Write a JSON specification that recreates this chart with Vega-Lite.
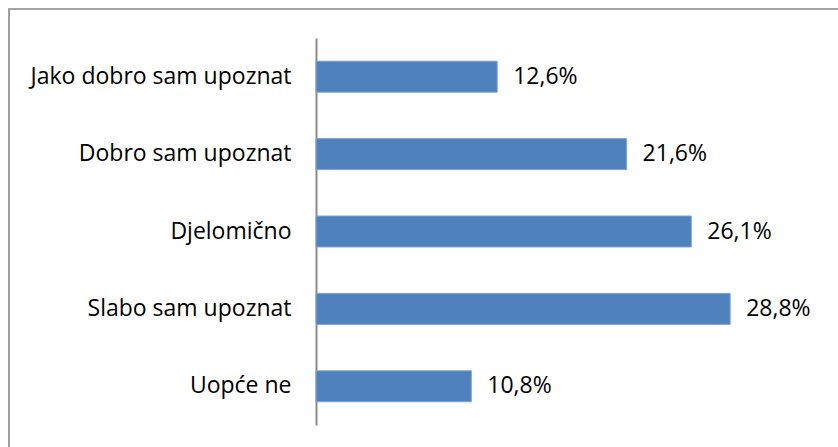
{
  "$schema": "https://vega.github.io/schema/vega-lite/v6.json",
  "autosize": {"type": "none"},
  "padding": {"left": 9, "top": 9, "right": 0, "bottom": 0},
  "width": 836,
  "height": 446,
  "background": "white",
  "config": {"view": {"stroke": "#878787", "strokeWidth": 1.6}, "font": "Open Sans"},
  "data": {"values": [
    {"kategorija": "Jako dobro sam upoznat", "postotak": 12.6, "oznaka": "12,6%"},
    {"kategorija": "Dobro sam upoznat", "postotak": 21.6, "oznaka": "21,6%"},
    {"kategorija": "Djelomično", "postotak": 26.1, "oznaka": "26,1%"},
    {"kategorija": "Slabo sam upoznat", "postotak": 28.8, "oznaka": "28,8%"},
    {"kategorija": "Uopće ne", "postotak": 10.8, "oznaka": "10,8%"}
  ]},
  "encoding": {
    "y": {"field": "kategorija", "type": "nominal", "sort": null,
      "scale": {"paddingInner": 0.6, "paddingOuter": 0.3, "range": [29, 416]},
      "axis": {"title": null, "ticks": false, "domain": true, "domainColor": "#8c8c8c", "domainWidth": 2, "offset": -307,
        "labelFontSize": 23, "labelColor": "#000000", "labelPadding": 25, "labelFont": "Open Sans", "labelLimit": 320}},
    "x": {"field": "postotak", "type": "quantitative", "scale": {"domain": [0, 36.3], "range": [307, 829]}, "axis": null}
  },
  "layer": [
    {"mark": {"type": "bar", "color": "#4f81bd", "stroke": "#7fa3d3", "strokeWidth": 1}},
    {"mark": {"type": "text", "align": "left", "dx": 16, "fontSize": 23, "color": "#000000", "font": "Open Sans"},
     "encoding": {"text": {"field": "oznaka"}}}
  ]
}
